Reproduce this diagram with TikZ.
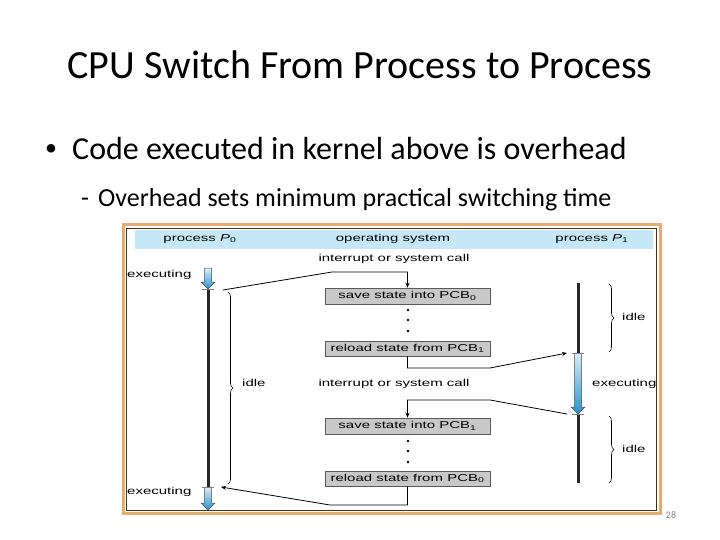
\documentclass[tikz,border=0pt]{standalone}
\usepackage{fontspec}
\setmainfont{Carlito}
\newfontfamily\diagfont[FakeStretch=1.5]{Liberation Sans}
\usepackage{tikz}
\usetikzlibrary{arrows.meta, positioning, calc, decorations.pathreplacing}
\definecolor{hdr}{RGB}{198, 231, 248}
\definecolor{pcb}{RGB}{200, 200, 200}
\definecolor{frm}{RGB}{228, 172, 110}
\definecolor{frmin}{RGB}{80, 45, 15}
\definecolor{exa}{RGB}{215, 238, 250}
\definecolor{exb}{RGB}{40, 145, 205}

% shaded block arrow for an executing stretch
\newcommand{\execarrow}[2]{%
  \shade[top color=exa, bottom color=exb, draw=black!70, line width=0.5pt]
    ($(#1)+(-3.5,0)$) -- ($(#2)+(-3.5,-7)$) -- ($(#2)+(-7,-7)$) -- (#2)
    -- ($(#2)+(7,-7)$) -- ($(#2)+(3.5,-7)$) -- ($(#1)+(3.5,0)$) -- cycle;
}

\begin{document}
\begin{tikzpicture}[
    x=1pt, y=-1pt,
    >=Stealth,
    lbl/.style={font=\diagfont\fontsize{10}{12}\selectfont, inner sep=0pt},
    pcbbox/.style={rectangle, draw=black!65, fill=pcb, line width=0.6pt,
      minimum width=165pt, minimum height=#1, inner sep=0pt,
      font=\diagfont\fontsize{10}{12}\selectfont},
    link/.style={->, line width=0.8pt, >={Stealth[length=5pt, width=4pt]}},
    timeline/.style={line width=3pt, black!85},
    tick/.style={line width=0.5pt, black!50},
    idlebrace/.style={decorate, decoration={brace, amplitude=5pt}, line width=0.6pt}
  ]
  \useasboundingbox (0,0) rectangle (720,540);

  % slide text
  \node[anchor=base, font=\fontsize{40}{48}\selectfont, inner sep=0pt] (title) at (360,79)
    {CPU Switch From Process to Process};
  \node[anchor=base west, font=\fontsize{24}{29}\selectfont, inner sep=0pt] (blt) at (45,156) {•};
  \node[anchor=base west, font=\fontsize{32}{38}\selectfont, inner sep=0pt] (b1) at (72,160)
    {Code executed in kernel above is overhead};
  \node[anchor=base west, font=\fontsize{26}{31}\selectfont, inner sep=0pt] (dsh) at (81,207) {-};
  \node[anchor=base west, font=\fontsize{26}{31}\selectfont, inner sep=0pt] (b2) at (98,207)
    {Overhead sets minimum practical switching time};
  \node[font=\fontsize{10}{12}\selectfont, text=black!50] (pg) at (671,515) {28};

  % frame and header band
  \draw[frm, line width=3pt] (123,225) rectangle (660,513);
  \draw[frmin, line width=0.8pt] (126.5,228) rectangle (656,510);
  \fill[hdr] (135,230) rectangle (653,249);
  \node[lbl] (hp0) at (200,239) {process {\itshape P}\textsubscript{0}};
  \node[lbl] (hos) at (393,239) {operating system};
  \node[lbl] (hp1) at (592,239) {process {\itshape P}\textsubscript{1}};

  % operating system column
  \node[lbl] (int1) at (394,259) {interrupt or system call};
  \node[lbl] (int2) at (394,384) {interrupt or system call};
  \node[pcbbox=16pt] (sv0) at (407.5,296) {save state into PCB\textsubscript{0}};
  \node[pcbbox=15pt] (rl1) at (407.5,348.5) {reload state from PCB\textsubscript{1}};
  \node[pcbbox=16pt] (sv1) at (407.5,426) {save state into PCB\textsubscript{1}};
  \node[pcbbox=15pt] (rl0) at (407.5,478.5) {reload state from PCB\textsubscript{0}};
  \foreach \y in {310,320,331,441,451,462} {
    \fill (408,\y) circle (1.4);
  }

  % process timelines
  \coordinate (p0top) at (208,268);
  \coordinate (p0a) at (208,289);
  \coordinate (p0b) at (208,487);
  \coordinate (p0bot) at (208,510);
  \coordinate (p1top) at (578,283);
  \coordinate (p1a) at (578,353);
  \coordinate (p1b) at (578,414);
  \coordinate (p1bot) at (578,483);
  \draw[timeline] (p0a) -- (p0b);
  \draw[timeline] (p1top) -- (p1a);
  \draw[timeline] (p1b) -- (p1bot);
  \execarrow{p0top}{p0a}
  \execarrow{p1a}{p1b}
  \execarrow{p0b}{p0bot}
  \foreach \c in {p0a, p0b, p1a, p1b} {
    \draw[tick] ($(\c)+(-6,0)$) -- ($(\c)+(6,0)$);
  }

  \node[lbl, anchor=west] (ex1) at (127,275) {executing};
  \node[lbl, anchor=west] (ex2) at (592,384) {executing};
  \node[lbl, anchor=west] (ex3) at (127,492) {executing};

  % idle braces
  \coordinate (i0a) at (228,292);
  \coordinate (i0b) at (228,484);
  \coordinate (i1a) at (609,284);
  \coordinate (i1b) at (609,352);
  \coordinate (i2a) at (609,416);
  \coordinate (i2b) at (609,483);
  \draw[idlebrace] (i0a) -- (i0b);
  \draw[idlebrace] (i1a) -- (i1b);
  \draw[idlebrace] (i2a) -- (i2b);
  \node[lbl, anchor=west] (id0) at (242,383) {idle};
  \node[lbl, anchor=west] (id1) at (622,317) {idle};
  \node[lbl, anchor=west] (id2) at (622,449) {idle};

  % switches
  \coordinate (c1) at (223,290);
  \coordinate (k1) at (332,272);
  \coordinate (k2) at (490,368);
  \coordinate (q1) at (567,353);
  \coordinate (c2) at (567,414);
  \coordinate (k3) at (490,400);
  \coordinate (k4) at (330,505);
  \coordinate (q2) at (221,487);
  \draw[link] (c1) -- (k1) -| (sv0.north);
  \draw[link] (rl1.south) |- (k2) -- (q1);
  \draw[link] (c2) -- (k3) -| (sv1.north);
  \draw[link] (rl0.south) |- (k4) -- (q2);
\end{tikzpicture}
\end{document}
